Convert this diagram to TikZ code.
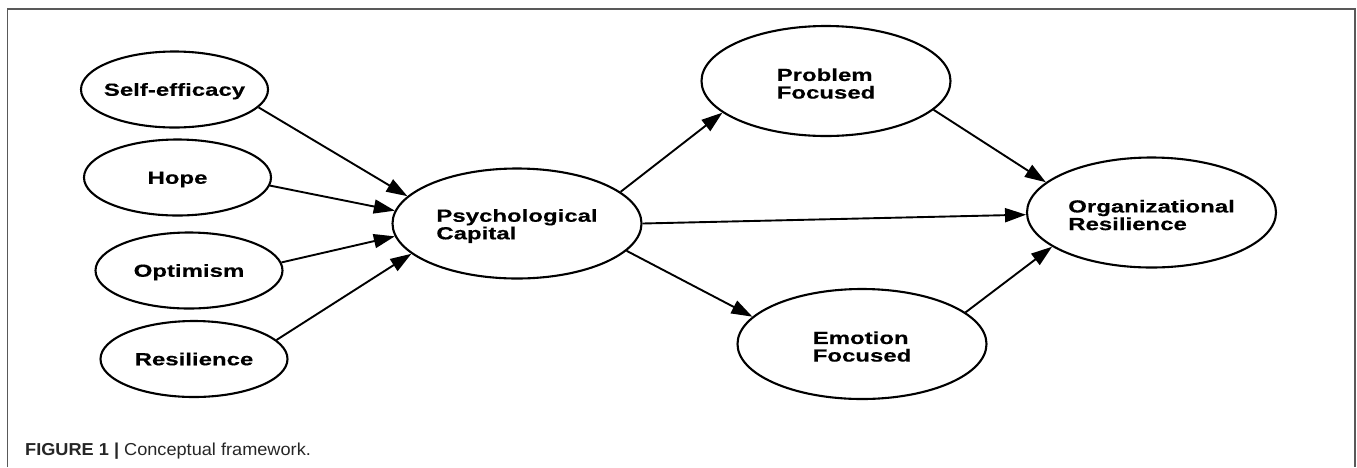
\documentclass[tikz,border=0pt]{standalone}
\usepackage{fontspec}
\setmainfont{Liberation Sans}
\newfontfamily\labelfont[FakeStretch=1.37,FakeBold=0.4]{Liberation Sans}
\newfontfamily\captionfont[FakeStretch=1.05]{Liberation Sans}
\usetikzlibrary{shapes.geometric,arrows.meta}

\begin{document}
\begin{tikzpicture}[x=1pt,y=-1pt,
  construct/.style={ellipse, draw, line width=2.1pt, inner sep=0pt},
  small/.style={construct, minimum width=187pt, minimum height=76pt},
  large/.style={construct, minimum width=249pt, minimum height=110pt},
  lbl/.style={inner sep=0pt, align=left,
    font=\labelfont\bfseries\fontsize{17.5}{17.6}\selectfont},
  lblone/.style={lbl, text height=12.5pt, text depth=0pt},
  lbltwo/.style={lbl, yshift=-2.5pt},
  link/.style={line width=1.9pt, -{Triangle[length=21pt,width=14pt]}},
  frame/.style={line width=1.5pt, draw=black!65}
]
\useasboundingbox (0,0) rectangle (1357,467);

% open frame around the figure
\draw[frame] (7.5,467) |- (1355,9) -- (1355,467);

% dimensions of psychological capital
\node[small, label={[lblone]center:Self-efficacy}] (se)  at (174.5,89.5) {};
\node[small, label={[lblone]center:Hope}]          (hope) at (177.5,177.5) {};
\node[small, label={[lblone]center:Optimism}]      (opt) at (189,270.5) {};
\node[small, label={[lblone]center:Resilience}]    (res) at (194,359) {};

% central construct, coping styles and outcome
\node[large, label={[lbltwo]center:Psychological\\Capital}]    (psy)  at (517,223.5) {};
\node[large, label={[lbltwo]center:Problem\\Focused}]          (prob) at (826,81) {};
\node[large, label={[lbltwo]center:Emotion\\Focused}]          (emo)  at (862,344) {};
\node[large, label={[lbltwo]center:Organizational\\Resilience}] (org) at (1151.5,212.5) {};

% paths
\draw[link] (se.-12.6)  -- (psy.166.3);
\draw[link] (hope.-5.1) -- (psy.174.6);
\draw[link] (opt.5.2)   -- (psy.186.2);
\draw[link] (res.13.9)  -- (psy.196.6);
\draw[link] (psy.17.8)  -- (prob.197.8);
\draw[link] (psy.0)     -- (org.181.1);
\draw[link] (psy.-14.3) -- (emo.166.7);
\draw[link] (prob.-15.2) -- (org.164.5);
\draw[link] (emo.17.6)  -- (org.199.1);

% caption
\node[anchor=base west, inner sep=0pt, text=black!85,
  font=\captionfont\fontsize{17.3}{20}\selectfont] (caption) at (25,455.7)
  {\textbf{FIGURE 1 |} Conceptual framework.};
\end{tikzpicture}
\end{document}
